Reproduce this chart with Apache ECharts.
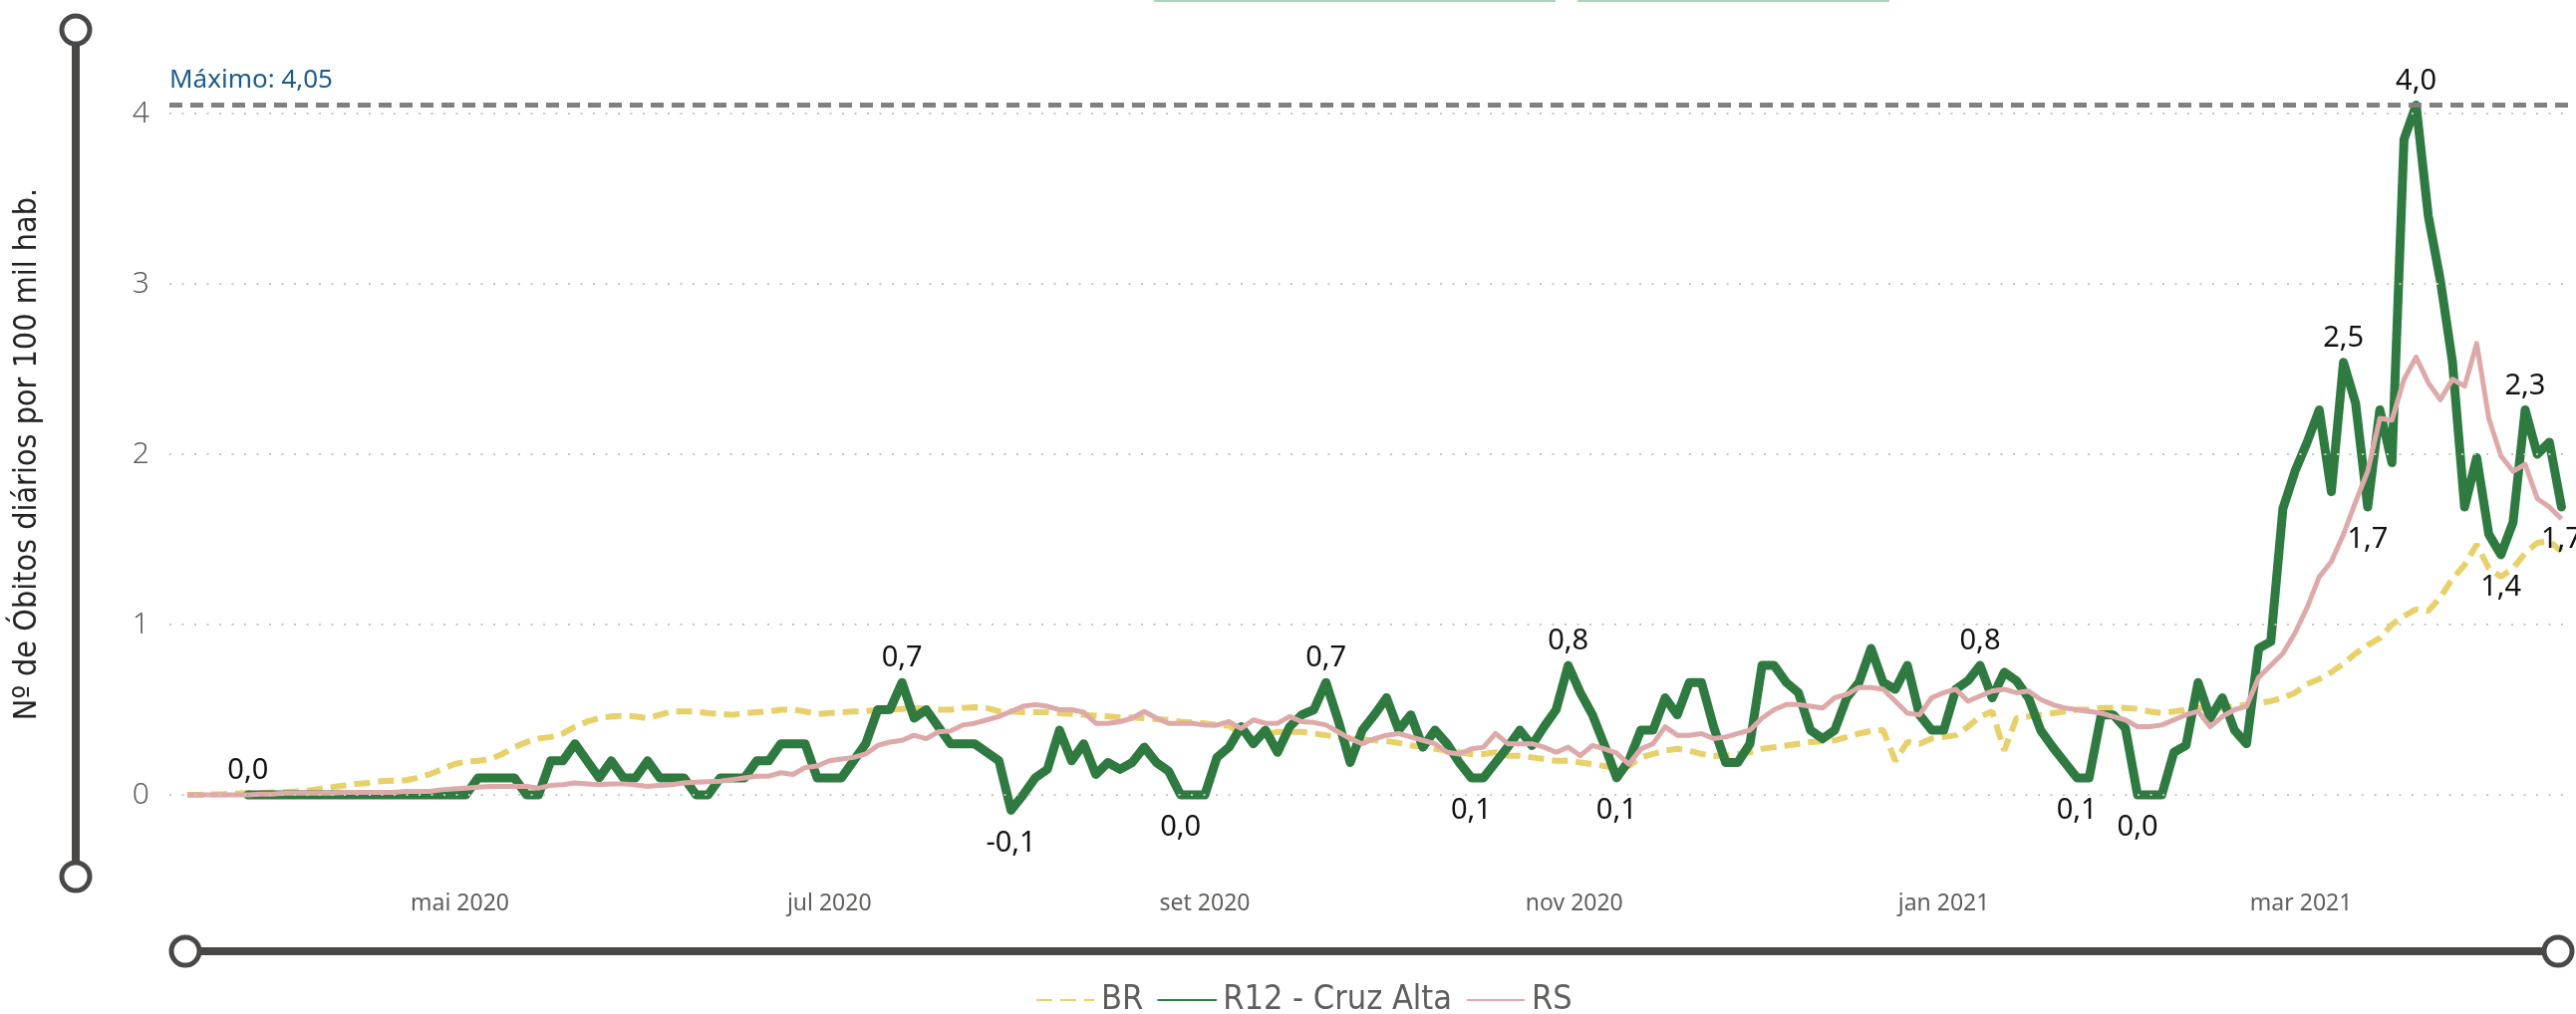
<!DOCTYPE html>
<html><head><meta charset="utf-8">
<script src="https://cdn.jsdelivr.net/npm/echarts@6/dist/echarts.min.js"></script>
<style>html,body{margin:0;padding:0;background:#fff;overflow:hidden}#c{width:2585px;height:1018px}</style>
</head><body><div id="c"></div>
<script>
// ---- data (one value every 2 days starting 2020-03-17) ----
const startDate = '2020-03-17';
const stepDays = 2;
const seriesNames = ['BR', 'R12 - Cruz Alta', 'RS'];
const brValues = [
0,0,0.003,0.005,0.008,0.01,0.012,0.014,0.016,0.02,
0.025,0.035,0.045,0.055,0.065,0.07,0.08,0.083,0.085,0.1,
0.12,0.15,0.18,0.195,0.2,0.21,0.24,0.28,0.31,0.33,
0.34,0.36,0.4,0.43,0.45,0.46,0.465,0.46,0.45,0.47,
0.49,0.49,0.49,0.48,0.475,0.47,0.48,0.485,0.49,0.5,
0.5,0.49,0.475,0.48,0.485,0.49,0.49,0.5,0.5,0.505,
0.51,0.505,0.5,0.5,0.51,0.515,0.51,0.49,0.49,0.485,
0.485,0.485,0.48,0.475,0.47,0.465,0.46,0.455,0.455,0.45,
0.445,0.44,0.43,0.425,0.42,0.41,0.405,0.36,0.33,0.35,
0.37,0.37,0.37,0.36,0.35,0.34,0.33,0.325,0.32,0.315,
0.305,0.29,0.285,0.27,0.26,0.25,0.24,0.24,0.25,0.23,
0.23,0.22,0.21,0.2,0.2,0.19,0.18,0.17,0.15,0.17,
0.22,0.24,0.26,0.27,0.26,0.24,0.23,0.23,0.24,0.25,
0.27,0.28,0.29,0.3,0.31,0.315,0.32,0.34,0.36,0.375,
0.38,0.2,0.31,0.3,0.33,0.34,0.35,0.4,0.46,0.49,
0.26,0.45,0.46,0.47,0.48,0.49,0.5,0.5,0.51,0.51,
0.51,0.505,0.49,0.48,0.49,0.5,0.51,0.51,0.51,0.52,
0.53,0.54,0.55,0.57,0.6,0.65,0.68,0.72,0.77,0.83,
0.88,0.92,1.0,1.05,1.09,1.08,1.16,1.27,1.35,1.47,
1.33,1.28,1.33,1.42,1.48,1.49,1.43];
const r12Values = [
null,null,null,null,null,0,0,0,0,0,
0,0,0,0,0,0,0,0,0,0,
0,0,0,0,0.1,0.1,0.1,0.1,0,0,
0.2,0.2,0.3,0.2,0.1,0.2,0.1,0.1,0.2,0.1,
0.1,0.1,0,0,0.1,0.1,0.1,0.2,0.2,0.3,
0.3,0.3,0.1,0.1,0.1,0.2,0.3,0.5,0.5,0.66,
0.45,0.5,0.4,0.3,0.3,0.3,0.25,0.2,-0.09,0,
0.1,0.15,0.38,0.2,0.3,0.12,0.19,0.15,0.19,0.28,
0.19,0.14,0,0,0,0.22,0.28,0.4,0.3,0.38,
0.25,0.4,0.47,0.5,0.66,0.44,0.19,0.38,0.47,0.57,
0.38,0.47,0.28,0.38,0.3,0.19,0.1,0.1,0.19,0.28,
0.38,0.29,0.4,0.5,0.76,0.6,0.47,0.29,0.1,0.2,
0.38,0.38,0.57,0.47,0.66,0.66,0.4,0.19,0.19,0.3,
0.76,0.76,0.66,0.6,0.38,0.33,0.38,0.57,0.66,0.86,
0.66,0.62,0.76,0.47,0.38,0.38,0.62,0.67,0.76,0.57,
0.72,0.67,0.57,0.38,0.28,0.19,0.1,0.1,0.47,0.47,
0.39,0,0,0,0.25,0.29,0.66,0.45,0.57,0.38,
0.3,0.86,0.9,1.68,1.9,2.07,2.26,1.78,2.54,2.3,
1.69,2.26,1.95,3.85,4.05,3.4,3.02,2.54,1.69,1.98,
1.53,1.41,1.6,2.26,2.0,2.07,1.69];
const rsValues = [
0,0,0,0,0,0,0.005,0.005,0.01,0.01,
0.01,0.01,0.01,0.015,0.015,0.015,0.015,0.015,0.02,0.02,
0.02,0.03,0.035,0.04,0.045,0.05,0.05,0.05,0.05,0.04,
0.055,0.06,0.07,0.065,0.06,0.065,0.065,0.058,0.05,0.055,
0.06,0.07,0.075,0.077,0.08,0.09,0.1,0.11,0.11,0.13,
0.12,0.16,0.17,0.2,0.21,0.22,0.24,0.29,0.31,0.32,
0.35,0.33,0.37,0.375,0.41,0.42,0.44,0.46,0.49,0.52,
0.53,0.52,0.5,0.5,0.485,0.42,0.42,0.43,0.45,0.49,
0.45,0.42,0.42,0.42,0.41,0.41,0.43,0.39,0.44,0.42,
0.42,0.46,0.43,0.425,0.41,0.37,0.33,0.3,0.33,0.35,
0.36,0.34,0.32,0.3,0.25,0.24,0.27,0.28,0.36,0.3,
0.3,0.3,0.28,0.25,0.28,0.23,0.29,0.27,0.245,0.18,
0.27,0.3,0.4,0.35,0.35,0.36,0.33,0.34,0.36,0.38,
0.45,0.5,0.53,0.53,0.52,0.51,0.57,0.59,0.63,0.63,
0.62,0.55,0.48,0.47,0.57,0.6,0.62,0.55,0.58,0.61,
0.62,0.6,0.61,0.56,0.53,0.51,0.5,0.49,0.48,0.46,
0.44,0.4,0.4,0.41,0.44,0.47,0.49,0.4,0.46,0.5,
0.52,0.69,0.76,0.83,0.95,1.1,1.28,1.37,1.53,1.72,
1.9,2.21,2.2,2.44,2.57,2.42,2.32,2.44,2.4,2.65,
2.21,1.99,1.9,1.94,1.74,1.69,1.62];
// data labels shown on the R12 line (index into r12Values) and side
const r12LabelIdx = [5,59,68,82,94,106,114,118,148,156,161,178,180,184,191,193,196];
const r12LabelPos = ['top','top','bottom','bottom','top','bottom','top','bottom','top','bottom','bottom','top','bottom','top','bottom','top','bottom'];
// x axis ticks
const tickDates = ['2020-05-01','2020-07-01','2020-09-01','2020-11-01','2021-01-01','2021-03-01'];
const tickLabels = ['mai 2020','jul 2020','set 2020','nov 2020','jan 2021','mar 2021'];
const yTicks = [0,1,2,3,4];

// ---- build ----
const DAY = 86400000;
const t0 = Date.parse(startDate + 'T00:00:00Z');
const tickTs = tickDates.map(d => Date.parse(d + 'T00:00:00Z'));
const xOf = i => t0 + i * stepDays * DAY;
const fmt1 = v => v.toFixed(1).replace('.', ',');
const toData = vals => vals.map((v, i) => v == null ? null : [xOf(i), v]).filter(d => d);
const maxVal = Math.max(...r12Values.filter(v => v != null));

const r12Data = [];
r12Values.forEach((v, i) => {
  if (v == null) return;
  const k = r12LabelIdx.indexOf(i);
  if (k < 0) { r12Data.push([xOf(i), v]); return; }
  const top = r12LabelPos[k] === 'top';
  r12Data.push({
    value: [xOf(i), v], symbol: 'circle', symbolSize: 1,
    label: { show: true, position: r12LabelPos[k], distance: top ? 9 : 18 }
  });
});

const SANS = "'Segoe UI', 'Noto Sans', 'Open Sans', sans-serif";
const COND = "'DejaVu Sans Condensed', 'Liberation Sans Narrow', 'Roboto', sans-serif";
const AX = '#4a4846';

const chart = echarts.init(document.getElementById('c'), null, { renderer: 'canvas' });
chart.setOption({
  animation: false,
  backgroundColor: '#ffffff',
  grid: { left: 170, right: 3, top: 28.5, bottom: 134.5, containLabel: false },
  legend: {
    data: seriesNames, left: 1034, top: 982, itemWidth: 58, itemHeight: 8, itemGap: 14,
    itemStyle: { opacity: 0 },
    textStyle: { fontSize: 34, color: '#605E5C', fontFamily: COND, padding: [0, 0, 0, 2] }
  },
  xAxis: {
    type: 'value',
    min: t0 - 2.96 * DAY, max: t0 + 393.9 * DAY,
    axisLine: { show: false }, axisTick: { show: false }, splitLine: { show: false },
    axisLabel: {
      customValues: tickTs, margin: 12, fontSize: 23, color: '#605E5C', fontFamily: SANS,
      formatter: v => { const k = tickTs.indexOf(v); return k >= 0 ? tickLabels[k] : ''; }
    }
  },
  yAxis: {
    type: 'value', min: -0.5, max: 4.5, interval: 0.5,
    name: 'Nº de Óbitos diários por 100 mil hab.',
    nameLocation: 'middle', nameRotate: 90, nameGap: 126,
    nameTextStyle: { fontSize: 32, color: '#252423', fontFamily: COND },
    axisLine: { show: false }, axisTick: { show: false }, splitLine: { show: false },
    axisLabel: {
      margin: 20, fontSize: 30, color: '#605E5C', fontFamily: SANS, fontWeight: 300,
      formatter: v => (yTicks.indexOf(v) >= 0 ? String(v) : '')
    }
  },
  series: [
    {
      name: '_grid', type: 'line', data: [], silent: true,
      markLine: {
        silent: true, symbol: 'none', label: { show: false },
        lineStyle: { type: [2, 10.5], color: '#C8C6C4', width: 2 },
        data: yTicks.map(t => ({ yAxis: t }))
      }
    },
    {
      name: seriesNames[0], type: 'line', data: toData(brValues), symbol: 'none',
      itemStyle: { color: '#E8D06A' },
      lineStyle: { color: '#E8D06A', width: 6, type: [16, 8] }
    },
    {
      name: seriesNames[1], type: 'line', data: r12Data, symbol: 'none',
      itemStyle: { color: '#2F7A40' },
      lineStyle: { color: '#2F7A40', width: 9, join: 'round', cap: 'round' },
      label: { show: false, fontSize: 29, color: '#111', fontFamily: SANS,
        formatter: p => fmt1(p.value[1]) },
      labelLayout: { hideOverlap: false },
      markLine: {
        silent: true, symbol: 'none',
        lineStyle: { type: [13, 8], color: '#808080', width: 5 },
        label: { show: true, position: 'insideStartTop', distance: [0, 12],
          formatter: 'Máximo: ' + maxVal.toFixed(2).replace('.', ','),
          color: '#1D5B8C', fontSize: 26, fontFamily: SANS },
        data: [{ yAxis: maxVal }]
      }
    },
    {
      name: seriesNames[2], type: 'line', data: toData(rsValues), symbol: 'none',
      itemStyle: { color: '#DEA9A9' },
      lineStyle: { color: '#DEA9A9', width: 5, join: 'round' }
    }
  ],
  graphic: [
    { type: 'rect', shape: { x: 1158, y: 0, width: 403, height: 2 }, style: { fill: '#A8D8B6' } },
    { type: 'rect', shape: { x: 1583, y: 0, width: 313, height: 2 }, style: { fill: '#A8D8B6' } },
    { type: 'line', shape: { x1: 76, y1: 30, x2: 76, y2: 880 }, style: { stroke: AX, lineWidth: 8 } },
    { type: 'circle', shape: { cx: 76, cy: 30, r: 14 }, style: { fill: '#fff', stroke: AX, lineWidth: 5 } },
    { type: 'circle', shape: { cx: 76, cy: 880, r: 14 }, style: { fill: '#fff', stroke: AX, lineWidth: 5 } },
    { type: 'line', shape: { x1: 186, y1: 955, x2: 2567, y2: 955 }, style: { stroke: AX, lineWidth: 8 } },
    { type: 'circle', shape: { cx: 186, cy: 955, r: 14 }, style: { fill: '#fff', stroke: AX, lineWidth: 5 } },
    { type: 'circle', shape: { cx: 2567, cy: 955, r: 14 }, style: { fill: '#fff', stroke: AX, lineWidth: 5 } }
  ]
});
</script></body></html>
